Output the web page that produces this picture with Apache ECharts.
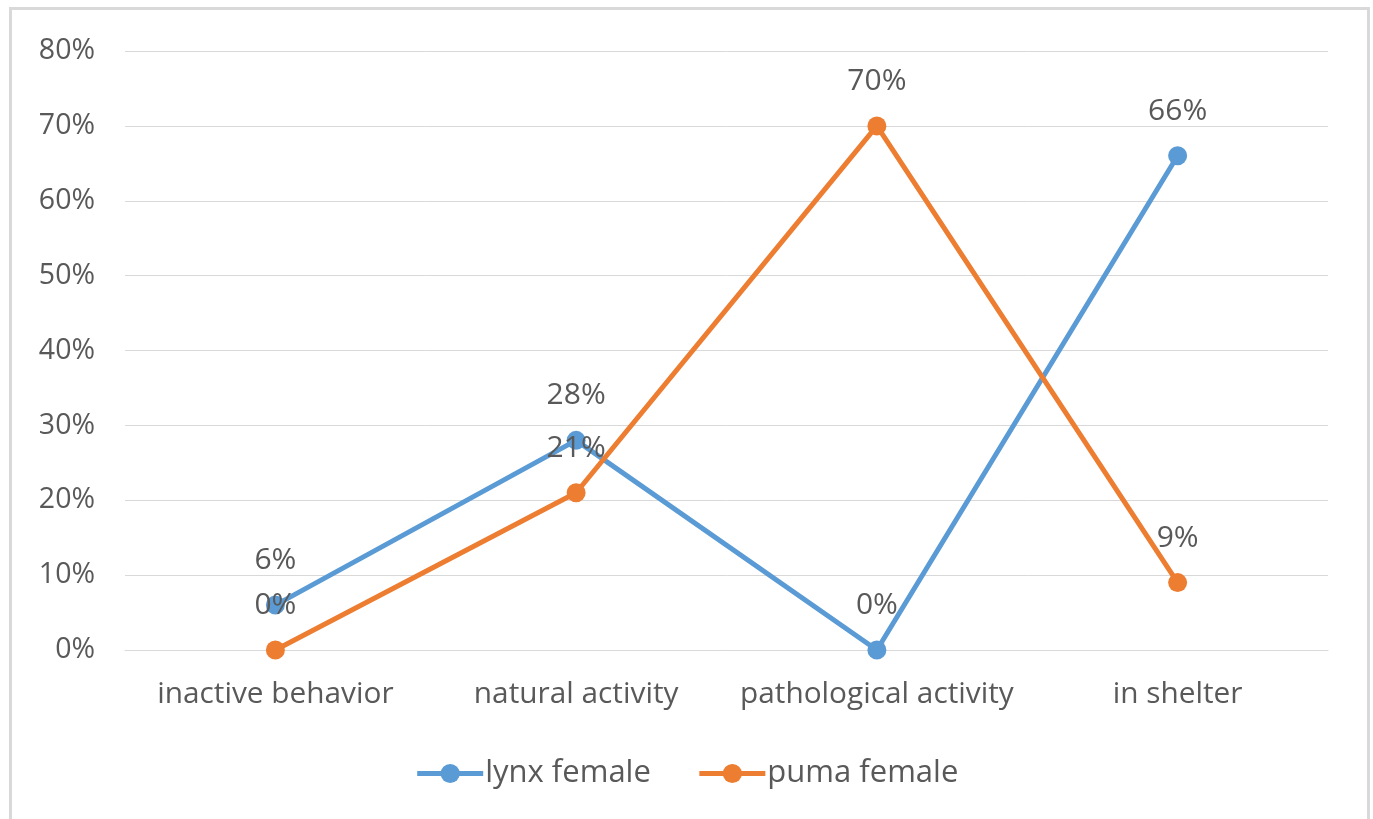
<!DOCTYPE html>
<html>
<head>
<meta charset="utf-8">
<script src="https://cdn.jsdelivr.net/npm/echarts@6/dist/echarts.min.js"></script>
<style>
  html, body { margin: 0; padding: 0; background: #ffffff; }
  #frame { position: absolute; left: 9px; top: 7px; width: 1361px; height: 830px; border: 3px solid #d9d9d9; box-sizing: border-box; }
  #chart { position: absolute; left: 0; top: 0; width: 1373px; height: 819px; }
</style>
</head>
<body>
<div id="frame"></div>
<div id="chart"></div>
<script>
// Share of observed time spent in each behaviour category
const categories = ['inactive behavior', 'natural activity', 'pathological activity', 'in shelter'];
const lynxFemale = [6, 28, 0, 66];
const pumaFemale = [0, 21, 70, 9];
const yTicks = [0, 10, 20, 30, 40, 50, 60, 70, 80];

const textColor = '#595959';
const fontFamily = '"Open Sans", "Noto Sans", sans-serif';

const chart = echarts.init(document.getElementById('chart'), null, { renderer: 'canvas' });

function lineSeries(name, data, color) {
  return {
    name: name,
    type: 'line',
    data: data,
    symbol: 'circle',
    symbolSize: 19,
    lineStyle: { color: color, width: 5 },
    itemStyle: { color: color },
    label: {
      show: true,
      position: 'top',
      distance: 20,
      formatter: p => p.value + '%',
      color: textColor,
      fontSize: 30,
      fontFamily: fontFamily
    },
    z: 3
  };
}

chart.setOption({
  animation: false,
  backgroundColor: 'transparent',
  grid: { left: 125, right: 45, top: 51, bottom: 169, containLabel: false },
  legend: {
    bottom: 25,
    left: 'center',
    itemWidth: 66,
    itemHeight: 24,
    itemGap: 46,
    lineStyle: { width: 5 },
    textStyle: { color: textColor, fontSize: 31, fontFamily: fontFamily, padding: [0, 0, 0, -3] },
    data: ['lynx female', 'puma female']
  },
  xAxis: {
    type: 'category',
    data: categories,
    boundaryGap: true,
    axisLine: { show: true, lineStyle: { color: '#d9d9d9', width: 1 } },
    axisTick: { show: false },
    axisLabel: { interval: 0, color: textColor, fontSize: 29.8, fontFamily: fontFamily, margin: 30 }
  },
  yAxis: {
    type: 'value',
    min: yTicks[0],
    max: yTicks[yTicks.length - 1],
    interval: 10,
    axisLine: { show: false },
    axisTick: { show: false },
    splitLine: { lineStyle: { color: '#d9d9d9', width: 1 } },
    axisLabel: { color: textColor, fontSize: 28.5, fontFamily: fontFamily, margin: 30, formatter: v => v + '%' }
  },
  series: [
    lineSeries('lynx female', lynxFemale, '#5b9bd5'),
    lineSeries('puma female', pumaFemale, '#ed7d31')
  ]
});
</script>
</body>
</html>
